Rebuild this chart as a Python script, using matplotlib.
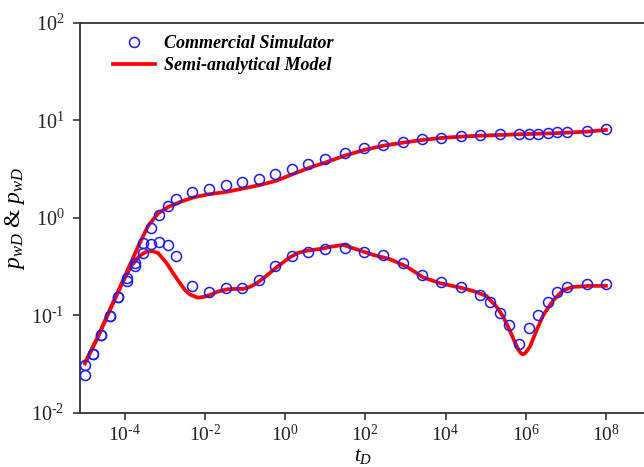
import math

import matplotlib
matplotlib.use("Agg")
import matplotlib.pyplot as plt
from matplotlib.ticker import FixedLocator, FuncFormatter, NullLocator

plt.rcParams["font.family"] = "Liberation Serif"
plt.rcParams["mathtext.fontset"] = "custom"
plt.rcParams["mathtext.rm"] = "Liberation Serif"
plt.rcParams["mathtext.it"] = "Liberation Serif:italic"

# ── Commercial simulator (circles) ───────────────────────────────────────
sim_t_p = [1e-5, 1.62e-5, 2.6e-5, 4.3e-5, 6.9e-5, 1.12e-4, 1.78e-4, 2.9e-4,
           4.5e-4, 7.3e-4, 1.18e-3, 1.9e-3, 4.9e-3, 1.26e-2, 3.3e-2, 8.5e-2,
           0.224, 0.575, 1.48, 3.8, 10, 31, 93, 282, 851, 2600, 7940, 2.4e4,
           7.4e4, 2.24e5, 6.8e5, 1.18e6, 2.0e6, 3.6e6, 6.2e6, 1.08e7, 3.3e7, 1e8]
sim_p = [0.0311, 0.0398, 0.0627, 0.0989, 0.153, 0.242, 0.345, 0.55, 0.782,
         1.06, 1.33, 1.55, 1.82, 1.97, 2.15, 2.32, 2.52, 2.80, 3.13, 3.57, 3.99,
         4.57, 5.14, 5.61, 6.02, 6.39, 6.62, 6.86, 7.03, 7.20, 7.24, 7.29, 7.29,
         7.38, 7.50, 7.55, 7.82, 8.11]

sim_t_d = [1e-5, 1.62e-5, 2.6e-5, 4.3e-5, 6.9e-5, 1.12e-4, 1.78e-4, 2.9e-4,
           4.5e-4, 7.3e-4, 1.18e-3, 1.9e-3, 4.9e-3, 1.26e-2, 3.3e-2, 8.5e-2,
           0.224, 0.575, 1.48, 3.8, 10, 31, 93, 282, 851, 2600, 7940, 2.4e4,
           7.4e4, 1.29e5, 2.24e5, 3.9e5, 6.8e5, 1.18e6, 2.0e6, 3.6e6, 6.2e6,
           1.08e7, 3.3e7, 1e8]
sim_d = [0.0245, 0.0398, 0.0627, 0.0989, 0.153, 0.226, 0.321, 0.434, 0.534,
         0.562, 0.524, 0.403, 0.1995, 0.175, 0.190, 0.191, 0.231, 0.319, 0.407,
         0.451, 0.477, 0.495, 0.451, 0.414, 0.348, 0.261, 0.218, 0.194, 0.161,
         0.1365, 0.107, 0.0794, 0.0505, 0.0748, 0.1005, 0.1375, 0.173, 0.196,
         0.209, 0.209]

# ── Semi-analytical model (red lines) ────────────────────────────────────
mod_t_p = [1.02e-5, 2.16e-5, 4.63e-5, 1e-4, 2.15e-4, 3.81e-4, 6.76e-4, 1.2e-3,
           2.58e-3, 5.14e-3, 1.19e-2, 3.5e-2, 8.9e-2, 0.237, 0.617, 1.6, 4.18,
           9.9, 30.6, 92.9, 281, 857, 2594, 7852, 2.39e4, 7.25e4, 2.29e5,
           7.21e5, 4.88e6, 3.32e7, 1e8]
mod_p = [0.0324, 0.0607, 0.123, 0.25, 0.507, 0.826, 1.11, 1.29, 1.47, 1.62,
         1.74, 1.85, 2.0, 2.17, 2.41, 2.82, 3.28, 3.68, 4.34, 4.96, 5.49, 5.89,
         6.28, 6.59, 6.79, 6.95, 7.07, 7.19, 7.36, 7.64, 7.96]

mod_t_d = [1.02e-5, 2.16e-5, 4.63e-5, 1e-4, 1.52e-4, 2.41e-4, 3.40e-4, 4.71e-4,
           6.76e-4, 1.11e-3, 1.60e-3, 2.39e-3, 3.19e-3, 4.25e-3, 6.61e-3,
           9.51e-3, 1.34e-2, 2.12e-2, 3.50e-2, 5.97e-2, 9.08e-2, 0.133, 0.196,
           0.316, 0.508, 0.791, 1.32, 2.10, 3.46, 7.41, 13.2, 28.2, 61.1, 158,
           413, 1076, 2793, 7295, 2.30e4, 4.93e4, 1.06e5, 1.89e5, 2.76e5,
           4.06e5, 5.73e5, 7.21e5, 8.41e5, 9.62e5, 1.28e6, 1.88e6, 2.75e6,
           4.88e6, 8.67e6, 1.54e7, 4.02e7, 1e8]
mod_d = [0.0324, 0.0607, 0.123, 0.242, 0.329, 0.412, 0.448, 0.458, 0.437,
         0.343, 0.272, 0.214, 0.182, 0.164, 0.152, 0.155, 0.162, 0.176, 0.185,
         0.187, 0.187, 0.196, 0.214, 0.248, 0.292, 0.337, 0.394, 0.437, 0.461,
         0.480, 0.504, 0.528, 0.475, 0.417, 0.377, 0.316, 0.245, 0.214, 0.193,
         0.178, 0.158, 0.122, 0.0966, 0.0693, 0.0499, 0.0418, 0.040, 0.0408,
         0.0479, 0.0710, 0.101, 0.143, 0.182, 0.196, 0.201, 0.201]

x_ticks = [1e-4, 1e-2, 1e0, 1e2, 1e4, 1e6, 1e8]
y_ticks = [1e-2, 1e-1, 1e0, 1e1, 1e2]


def pow_label(v, pos):
    exp = int(round(math.log10(v)))
    if exp < 0:
        return r"10$^{\text{-}%d}$" % abs(exp)
    return r"10$^{%d}$" % exp


fig = plt.figure(figsize=(6.44, 4.67), dpi=100)
ax = fig.add_axes([80 / 644, 1 - 413 / 467, 566 / 644, (413 - 22.7) / 467])

red = "#ff0000"
blue = "#1a1aff"
ax.plot(mod_t_p, mod_p, color=red, lw=2.7, zorder=2)
ax.plot(mod_t_d, mod_d, color=red, lw=2.7, zorder=2, label="Semi-analytical Model")
ax.plot(sim_t_p, sim_p, ls="none", marker="o", ms=7.2, mfc="none", mec=blue,
        mew=1.1, zorder=3, label="Commercial Simulator")
ax.plot(sim_t_d, sim_d, ls="none", marker="o", ms=7.2, mfc="none", mec=blue,
        mew=1.1, zorder=3)

ax.set_xscale("log")
ax.set_yscale("log")
ax.set_xlim(7.67e-6, 1e9)
ax.set_ylim(1e-2, 1e2)

ax.xaxis.set_major_locator(FixedLocator(x_ticks))
ax.yaxis.set_major_locator(FixedLocator(y_ticks))
ax.xaxis.set_minor_locator(NullLocator())
ax.yaxis.set_minor_locator(NullLocator())
ax.xaxis.set_major_formatter(FuncFormatter(pow_label))
ax.yaxis.set_major_formatter(FuncFormatter(pow_label))
ax.tick_params(direction="out", length=5, width=1.1, labelsize=14.5,
               colors="#222222", pad=6)
ax.tick_params(axis="x", labelsize=14, pad=3)

for s in ax.spines.values():
    s.set_linewidth(1.3)
    s.set_color("#333333")

ax.set_ylabel(r"$p_{wD}$ & $p_{wD}$", fontsize=17, labelpad=3)
ax.set_xlabel(r"$t_D$", fontsize=15)
# keep t_D just inside the bottom edge
ax.xaxis.set_label_coords(0.5, -0.137)
ax.xaxis.label.set_va("bottom")

handles, labels = ax.get_legend_handles_labels()
leg = ax.legend(handles[::-1], labels[::-1], loc="upper left",
                bbox_to_anchor=(0.03, 1.01), frameon=False, handlelength=2.3,
                handletextpad=0.5, labelspacing=0.3,
                prop={"family": "Liberation Serif", "style": "italic",
                      "weight": "bold", "size": 13})

fig.savefig("out.png", dpi=100)
